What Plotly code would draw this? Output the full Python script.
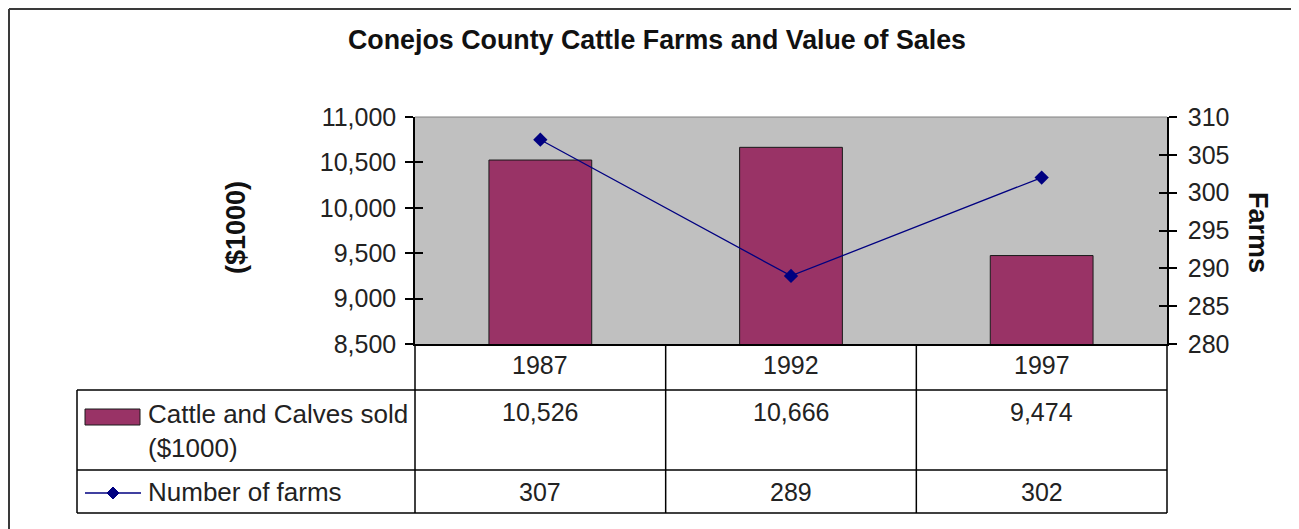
import plotly.graph_objects as go

# ---------------- data ----------------
years = ["1987", "1992", "1997"]
sales = [10526, 10666, 9474]          # Cattle and Calves sold ($1000)
farms = [307, 289, 302]               # Number of farms
sales_ticks = [8500, 9000, 9500, 10000, 10500, 11000]
farm_ticks = [280, 285, 290, 295, 300, 305, 310]

title_text = "Conejos County Cattle Farms and Value of Sales"
sales_name = "Cattle and Calves sold<br>($1000)"
farms_name = "Number of farms"
left_title = "($1000)"
right_title = "Farms"

# ---------------- style / layout ----------------
W, H = 1299, 529
OFF = 8               # page body margin offset
BAR = "#993366"
LINE = "#000080"
PLOT_BG = "#C0C0C0"
FONT = "Liberation Sans, Arial, sans-serif"
FS = 25
FS_T = 26.8
TXT = "#222222"


def px(x):
    return (x - OFF) / W


def py(y):
    return 1 - (y - OFF) / H


PL, PR, PT, PB = 415, 1167, 117, 344      # plot area in pixels (screen)
ROW1, ROW2, ROW3 = 390, 470, 513          # table row lines
TL = 77                                   # table left edge

fig = go.Figure()
fig.add_trace(go.Bar(
    x=years, y=sales, name=sales_name,
    marker=dict(color=BAR, line=dict(color="#1a1a1a", width=1)),
    showlegend=False, yaxis="y",
))
fig.add_trace(go.Scatter(
    x=years, y=farms, name=farms_name, yaxis="y2",
    mode="lines+markers",
    line=dict(color=LINE, width=1.3),
    marker=dict(symbol="diamond", size=11, color=LINE),
    showlegend=False,
))
# empty traces to instantiate the inner-tick overlay axes
fig.add_trace(go.Scatter(x=[], y=[], yaxis="y3", showlegend=False))
fig.add_trace(go.Scatter(x=[], y=[], yaxis="y4", showlegend=False))

yfont = dict(family=FONT, size=FS, color=TXT)
common_y = dict(showgrid=False, zeroline=False, fixedrange=True, automargin=False)

fig.update_layout(
    width=W, height=H, autosize=False,
    margin=dict(l=0, r=0, t=0, b=0, pad=0, autoexpand=False),
    showlegend=False,
    paper_bgcolor="white", plot_bgcolor=PLOT_BG,
    bargap=0.59,
    font=dict(family=FONT, size=FS, color=TXT),
    title=dict(text="<b>" + title_text + "</b>", x=px(657), y=py(40),
               xref="paper", yref="paper",
               xanchor="center", yanchor="middle",
               font=dict(family=FONT, size=FS_T, color="#111111")),
    xaxis=dict(domain=[px(PL), px(PR)], anchor="y", type="category",
               categoryorder="array", categoryarray=years,
               range=[-0.5, 2.5], showticklabels=False, ticks="",
               showline=True, linecolor="black", linewidth=1.5,
               showgrid=False, zeroline=False, fixedrange=True, automargin=False),
    yaxis=dict(domain=[py(PB), py(PT)], range=[sales_ticks[0], sales_ticks[-1]],
               tickvals=sales_ticks, tickformat=",", ticks="outside",
               ticklen=8, tickwidth=1.5, tickcolor="black",
               showline=True, linecolor="black", linewidth=1.5,
               tickfont=yfont, ticklabelstandoff=4, anchor="x", **common_y),
    yaxis2=dict(overlaying="y", side="right", anchor="x",
                range=[farm_ticks[0], farm_ticks[-1]], tickvals=farm_ticks,
                ticks="outside", ticklen=8, tickwidth=1.5, tickcolor="black",
                showline=True, linecolor="black", linewidth=1.5,
                tickfont=yfont, ticklabelstandoff=6, **common_y),
    yaxis3=dict(overlaying="y", side="left", anchor="x",
                range=[sales_ticks[0], sales_ticks[-1]], tickvals=sales_ticks,
                ticks="inside", ticklen=8, tickwidth=1.5, tickcolor="black",
                showticklabels=False, showline=False, **common_y),
    yaxis4=dict(overlaying="y", side="right", anchor="x",
                range=[farm_ticks[0], farm_ticks[-1]], tickvals=farm_ticks,
                ticks="inside", ticklen=8, tickwidth=1.5, tickcolor="black",
                showticklabels=False, showline=False, **common_y),
)

shapes = []


def hline(x0, x1, y, color="black", width=1.5):
    shapes.append(dict(type="line", xref="paper", yref="paper",
                       x0=px(x0), x1=px(x1), y0=py(y), y1=py(y),
                       line=dict(color=color, width=width)))


def vline(x, y0, y1, color="black", width=1.5):
    shapes.append(dict(type="line", xref="paper", yref="paper",
                       x0=px(x), x1=px(x), y0=py(y0), y1=py(y1),
                       line=dict(color=color, width=width)))


# outer chart frame
hline(9, W + OFF, 9, color="#3a3a3a", width=2)
vline(9, 9, H + OFF, color="#3a3a3a", width=2)
vline(1297, 9, H + OFF, color="#d4d4d4", width=1)
# plot area top border
hline(PL, PR, PT, color="#808080", width=1)
# data table
for yy in (ROW1, ROW2, ROW3):
    hline(TL, PR, yy)
vline(TL, ROW1, ROW3)
vline(PL, PB, ROW3)
vline(PR, PB, ROW3)
for i in range(1, len(years)):
    shapes.append(dict(type="line", xref="x", yref="paper",
                       x0=i - 0.5, x1=i - 0.5, y0=py(PB), y1=py(ROW3),
                       line=dict(color="black", width=1.5)))
# legend keys
shapes.append(dict(type="rect", xref="paper", yref="paper",
                   x0=px(85), x1=px(140), y0=py(425), y1=py(409),
                   fillcolor=BAR, line=dict(color="#1a1a1a", width=1)))
hline(85, 141, 493, color=LINE, width=1.3)
cx, cy, d = 113, 493, 6
shapes.append(dict(type="path", xref="paper", yref="paper",
                   path=(f"M {px(cx - d)} {py(cy)} L {px(cx)} {py(cy - d)} "
                         f"L {px(cx + d)} {py(cy)} L {px(cx)} {py(cy + d)} Z"),
                   fillcolor=LINE, line=dict(color=LINE, width=1)))
fig.update_layout(shapes=shapes)

ann = []
for i, (yr, s, f) in enumerate(zip(years, sales, farms)):
    # category axes take the category index for annotation positions
    ann.append(dict(x=i, xref="x", y=py(365), yref="paper", text=yr,
                    showarrow=False, xanchor="center", yanchor="middle"))
    ann.append(dict(x=i, xref="x", y=py(412), yref="paper", text=f"{s:,}",
                    showarrow=False, xanchor="center", yanchor="middle"))
    ann.append(dict(x=i, xref="x", y=py(492), yref="paper", text=f"{f:,}",
                    showarrow=False, xanchor="center", yanchor="middle"))
ann.append(dict(x=px(146), xref="paper", y=py(431), yref="paper",
                text=sales_name, showarrow=False, xanchor="left",
                yanchor="middle", align="left", font=dict(size=26)))
ann.append(dict(x=px(146), xref="paper", y=py(492), yref="paper",
                text=farms_name, showarrow=False, xanchor="left",
                yanchor="middle", align="left", font=dict(size=26)))
ann.append(dict(x=px(236), xref="paper", y=py(228), yref="paper",
                text="<b>" + left_title + "</b>", textangle=-90,
                showarrow=False, xanchor="center", yanchor="middle",
                font=dict(family=FONT, size=27, color="#111111")))
ann.append(dict(x=px(1258), xref="paper", y=py(232), yref="paper",
                text="<b>" + right_title + "</b>", textangle=90,
                showarrow=False, xanchor="center", yanchor="middle",
                font=dict(family=FONT, size=27, color="#111111")))
fig.update_layout(annotations=ann)

fig.write_html("out.html")
